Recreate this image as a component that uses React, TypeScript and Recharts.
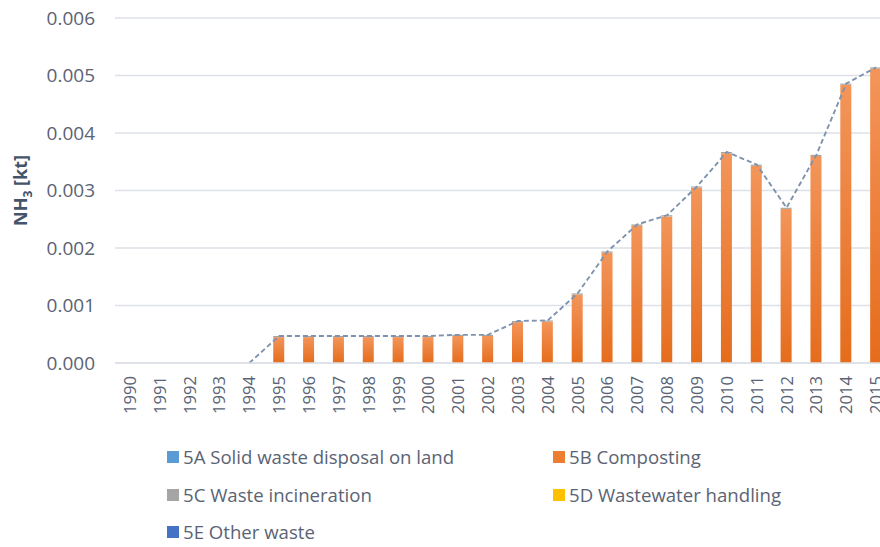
import React from "react";
import {
  ComposedChart,
  Bar,
  Line,
  XAxis,
  YAxis,
  CartesianGrid,
  Legend,
} from "recharts";

const years = [
  "1990", "1991", "1992", "1993", "1994", "1995", "1996", "1997", "1998",
  "1999", "2000", "2001", "2002", "2003", "2004", "2005", "2006", "2007",
  "2008", "2009", "2010", "2011", "2012", "2013", "2014", "2015",
];

const s5A: (number | null)[] = years.map(() => null);
const s5B: (number | null)[] = [
  null, null, null, null, null, 0.00045, 0.00045, 0.00045, 0.00045, 0.00045,
  0.00045, 0.00047, 0.00047, 0.00071, 0.00072, 0.00119, 0.00192, 0.00239,
  0.00255, 0.00305, 0.00365, 0.00343, 0.00268, 0.0036, 0.00484, 0.00512,
];
const s5C: (number | null)[] = [
  null, null, null, null, null, 0.00002, 0.00002, 0.00002, 0.00002, 0.00002,
  0.00002, 0.00002, 0.00002, 0.00002, 0.00002, 0.00002, 0.00002, 0.00002,
  0.00002, 0.00002, 0.00002, 0.00002, 0.00002, 0.00002, 0.00002, 0.00002,
];
const s5D: (number | null)[] = years.map(() => null);
const s5E: (number | null)[] = years.map(() => null);
const totals: (number | null)[] = [
  null, null, null, null, 0, 0.00047, 0.00047, 0.00047, 0.00047, 0.00047,
  0.00047, 0.00049, 0.00049, 0.00073, 0.00074, 0.00121, 0.00194, 0.00241,
  0.00257, 0.00307, 0.00367, 0.00345, 0.0027, 0.00362, 0.00486, 0.00514,
];

const yTicks = [0, 0.001, 0.002, 0.003, 0.004, 0.005, 0.006];

const seriesNames = [
  "5A Solid waste disposal on land",
  "5B Composting",
  "5C Waste incineration",
  "5D Wastewater handling",
  "5E Other waste",
];
const seriesKeys = ["a", "b", "c", "d", "e"];
const seriesColors = ["#5B9BD5", "#ED7D31", "#A5A5A5", "#FFC000", "#4472C4"];

const data = years.map((y, i) => ({
  year: y,
  a: s5A[i],
  b: s5B[i],
  c: s5C[i],
  d: s5D[i],
  e: s5E[i],
  total: totals[i],
}));

const TEXT = "#5A6374";

const XTick = (props: any) => {
  const { x, y, payload } = props;
  return (
    <text
      x={x}
      y={y}
      transform={`rotate(-90 ${x} ${y})`}
      textAnchor="end"
      dy="0.36em"
      fill={TEXT}
      fontSize={16.6}
    >
      {payload.value}
    </text>
  );
};

const YLabel = (props: any) => {
  const vb = props.viewBox || { x: 0, y: 0, width: 0, height: 0 };
  const cx = vb.x + 21;
  const cy = vb.y + vb.height / 2;
  return (
    <text
      x={cx}
      y={cy}
      transform={`rotate(-90 ${cx} ${cy})`}
      textAnchor="middle"
      dy="0.35em"
      fill="#44546A"
      fontSize={18}
      fontWeight="bold"
    >
      NH
      <tspan fontSize={12} dy="5">3</tspan>
      <tspan dy="-5"> [kt]</tspan>
    </text>
  );
};

const LegendContent = () => {
  const rows = [
    [0, 1],
    [2, 3],
    [4],
  ];
  const colX = [167, 553];
  return (
    <div style={{ position: "relative", width: 880, height: 110 }}>
      {rows.map((row, r) =>
        row.map((idx, c) => (
          <div
            key={idx}
            style={{
              position: "absolute",
              left: colX[c],
              top: 6 + r * 37.7,
              height: 22,
              lineHeight: "22px",
              display: "flex",
              alignItems: "center",
              whiteSpace: "nowrap",
            }}
          >
            <span
              style={{
                display: "inline-block",
                width: 12,
                height: 12,
                background: seriesColors[idx],
                marginRight: 4,
              }}
            />
            <span style={{ color: TEXT, fontSize: 18.6 }}>{seriesNames[idx]}</span>
          </div>
        ))
      )}
    </div>
  );
};

export default function App() {
  return (
    <div
      style={{
        position: "absolute",
        left: 0,
        top: 0,
        width: 880,
        height: 547,
        overflow: "hidden",
        background: "#fff",
        fontFamily: "'Open Sans', sans-serif",
      }}
    >
      <ComposedChart
        width={891}
        height={547}
        data={data}
        margin={{ top: 18, right: 0, bottom: 0, left: 0 }}
        barCategoryGap={0}
      >
        <defs>
          <linearGradient id="gradB" x1="0" y1="0" x2="0" y2="1">
            <stop offset="0%" stopColor="#F3955A" />
            <stop offset="100%" stopColor="#E56C1C" />
          </linearGradient>
        </defs>
        <CartesianGrid vertical={false} stroke="#DDE1E7" strokeWidth={1.5} />
        <XAxis
          dataKey="year"
          interval={0}
          height={74}
          tickSize={0}
          tickMargin={13}
          tickLine={false}
          axisLine={{ stroke: "#DDE1E7", strokeWidth: 1.5 }}
          tick={<XTick />}
        />
        <YAxis
          width={115}
          domain={[0, 0.006]}
          ticks={yTicks}
          interval={0}
          tickSize={0}
          tickMargin={20}
          tickLine={false}
          axisLine={false}
          tickFormatter={(v: number) => v.toFixed(3)}
          tick={{ fill: TEXT, fontSize: 19 }}
          label={<YLabel />}
        />
        {seriesKeys.map((k, i) => (
          <Bar
            key={k}
            dataKey={k}
            name={seriesNames[i]}
            stackId="s"
            barSize={11}
            fill={k === "b" ? "url(#gradB)" : seriesColors[i]}
            isAnimationActive={false}
          />
        ))}
        <Line
          dataKey="total"
          name="Total"
          stroke="#7F93AE"
          strokeWidth={1.9}
          strokeDasharray="5 3"
          dot={false}
          activeDot={false}
          legendType="none"
          connectNulls={false}
          isAnimationActive={false}
        />
        <Legend
          verticalAlign="bottom"
          content={<LegendContent />}
          wrapperStyle={{ left: 0, top: 440, width: 880, height: 110 }}
        />
      </ComposedChart>
    </div>
  );
}
